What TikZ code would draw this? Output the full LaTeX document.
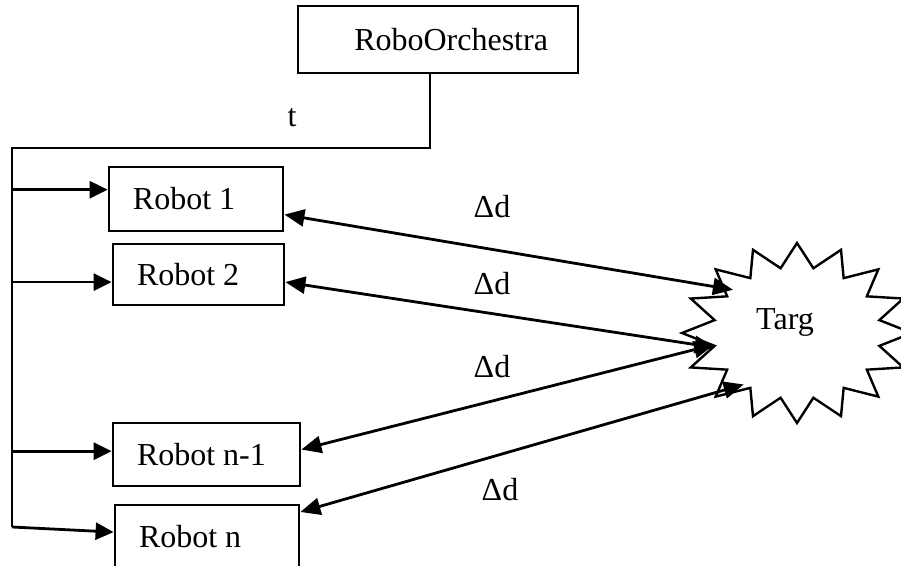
\documentclass[tikz,border=0pt]{standalone}
\usepackage{fontspec}
\setmainfont{Liberation Serif}
\usetikzlibrary{positioning,arrows.meta,shapes.geometric}

\tikzset{
  box/.style={draw, line width=1.4pt, minimum height=30pt, inner xsep=12pt, inner ysep=0pt,
    text width=62pt, align=flush left},
  feed/.style={line width=1.4pt, -{Triangle[length=9pt,width=8.5pt]}},
  link/.style={line width=1.4pt, {Triangle[length=10pt,width=8.5pt]}-{Triangle[length=10pt,width=8.5pt]}},
}

\begin{document}
\begin{tikzpicture}[x=0.5pt, y=-0.5pt, font=\fontsize{16}{19}\selectfont]
  \useasboundingbox (0,0) rectangle (901,566);

  % scheduler and robots
  \node[box, inner xsep=15pt, text width=110pt, align=flush right, minimum height=33.5pt] (orch) at (438,39.5) {RoboOrchestra};
  \node[box, text width=63pt, minimum height=32pt] (rob1) at (196,199) {Robot 1};
  \node[box, text width=61.5pt, minimum height=30.5pt] (rob2) at (198.5,274.5) {Robot 2};
  \node[box, text width=69.5pt, minimum height=31.5pt] (robn1) at (206.5,454.5) {Robot n-1};
  \node[box, text width=68pt, minimum height=32pt] (robn) at (207,537) {Robot n};

  % target
  \node[ellipse, minimum width=84pt, minimum height=66pt, inner sep=0pt] (targ) at (797,333) {};
  \node (targtext) at (785,322) {Targ};
  \draw[line width=1.2pt] plot[samples at={0,11.25,...,348.75}, variable=\a]
    ({797+(99.5+15.5*cos(16*\a))*cos(\a)}, {333-(78+12*cos(16*\a))*sin(\a)}) -- cycle;

  % time line to the robots
  \coordinate (split) at (430,148);
  \coordinate (corner) at (12,148);
  \coordinate (foot) at (12,527);
  \node (tlab) at (292,118) {t};
  \draw[line width=1.4pt] (orch.south -| split) -- (split) -- (corner) -- (foot);
  \draw[feed] (corner |- rob1.174) -- (rob1.174);
  \draw[feed] (corner |- rob2.185) -- (rob2.185);
  \draw[feed] (corner |- robn1.178) -- (robn1.178);
  \draw[feed] (foot) -- (robn.177);

  % distances to the target
  \draw[link] (rob1.-10) -- (targ.146);
  \draw[link] (rob2.-5) -- (targ.190);
  \draw[link] (robn1.3) -- (targ.188);
  \draw[link] (robn.15) -- (targ.224);
  \node (d1) at (492,207) {Δd};
  \node (d2) at (492,284) {Δd};
  \node (d3) at (492,367) {Δd};
  \node (dn) at (500,490) {Δd};
\end{tikzpicture}
\end{document}
